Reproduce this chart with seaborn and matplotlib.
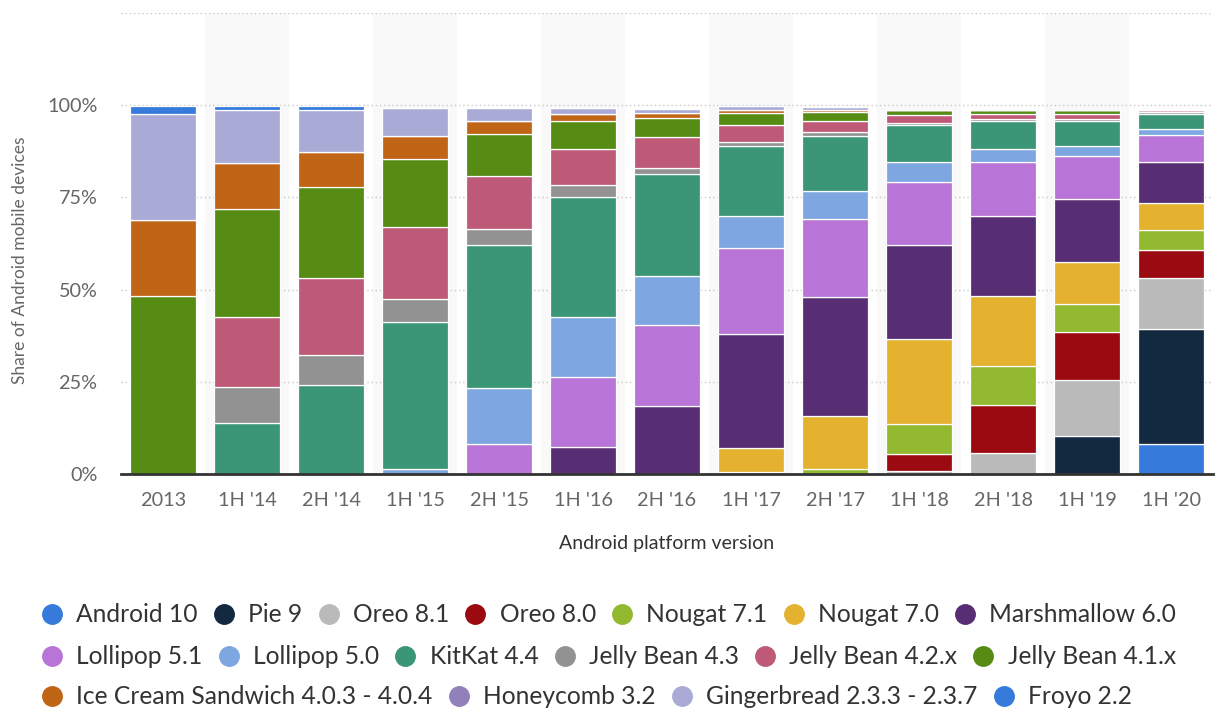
import matplotlib
matplotlib.use("Agg")
import matplotlib.pyplot as plt
from matplotlib.lines import Line2D
import seaborn as sns
import numpy as np
import pandas as pd

periods = ["2013", "1H '14", "2H '14", "1H '15", "2H '15", "1H '16", "2H '16",
           "1H '17", "2H '17", "1H '18", "2H '18", "1H '19", "1H '20"]

versions = ["Android 10", "Pie 9", "Oreo 8.1", "Oreo 8.0", "Nougat 7.1", "Nougat 7.0",
            "Marshmallow 6.0", "Lollipop 5.1", "Lollipop 5.0", "KitKat 4.4",
            "Jelly Bean 4.3", "Jelly Bean 4.2.x", "Jelly Bean 4.1.x",
            "Ice Cream Sandwich 4.0.3 - 4.0.4", "Honeycomb 3.2",
            "Gingerbread 2.3.3 - 2.3.7", "Froyo 2.2"]

colors = ["#367bdc", "#13293f", "#bababa", "#9a0a10", "#93b930", "#e4b22f",
          "#572d73", "#b874d6", "#7ea6e1", "#3b9577", "#929292", "#be5a78",
          "#568b14", "#c06416", "#9180ba", "#aaaad7", "#367bdc"]

# share (%) per version, one value per period
android_10   = [0, 0, 0, 0, 0, 0, 0, 0, 0, 0, 0, 0, 8.1]
pie_9        = [0, 0, 0, 0, 0, 0, 0, 0, 0, 0, 0, 10.3, 31.2]
oreo_81      = [0, 0, 0, 0, 0, 0, 0, 0, 0, 0.8, 5.6, 15.2, 13.8]
oreo_80      = [0, 0, 0, 0, 0, 0, 0, 0, 0, 4.6, 13.1, 12.9, 7.7]
nougat_71    = [0, 0, 0, 0, 0, 0, 0, 0.5, 1.3, 8.2, 10.6, 7.7, 5.3]
nougat_70    = [0, 0, 0, 0, 0, 0, 0, 6.6, 14.3, 23.0, 19.0, 11.5, 7.4]
marshmallow  = [0, 0, 0, 0, 0, 7.4, 18.5, 30.9, 32.4, 25.5, 21.6, 17.1, 11.0]
lollipop_51  = [0, 0, 0, 0, 8.1, 19.0, 21.9, 23.3, 21.2, 17.1, 14.6, 11.5, 7.5]
lollipop_50  = [0, 0, 0, 1.3, 15.2, 16.3, 13.4, 8.7, 7.4, 5.3, 3.5, 2.7, 1.6]
kitkat       = [0, 13.8, 24.2, 39.9, 38.9, 32.3, 27.5, 19.0, 15.0, 10.0, 7.8, 6.9, 4.1]
jb_43        = [0, 9.9, 8.0, 6.2, 4.2, 3.3, 1.6, 1.0, 1.0, 0.7, 0.5, 0.5, 0.4]
jb_42        = [0, 19.0, 20.9, 19.5, 14.3, 9.7, 8.4, 4.7, 3.0, 2.2, 1.3, 1.3, 0.6]
jb_41        = [48.3, 29.2, 24.8, 18.5, 11.4, 7.6, 5.2, 3.2, 2.6, 1.2, 1.0, 1.0, 0.1]
ics          = [20.6, 12.3, 9.5, 6.2, 3.5, 1.9, 1.4, 0.8, 0.4, 0.1, 0.1, 0.1, 0]
honeycomb    = [0, 0, 0, 0, 0, 0, 0, 0, 0, 0, 0, 0, 0]
gingerbread  = [28.6, 14.6, 11.4, 7.7, 3.7, 1.8, 1.2, 1.0, 0.8, 0.1, 0.1, 0.1, 0]
froyo        = [2.2, 0.9, 0.9, 0, 0, 0, 0, 0, 0, 0, 0, 0, 0]

series = [android_10, pie_9, oreo_81, oreo_80, nougat_71, nougat_70, marshmallow,
          lollipop_51, lollipop_50, kitkat, jb_43, jb_42, jb_41, ics, honeycomb,
          gingerbread, froyo]

sns.set_theme(style="white")
FONT = ["Lato", "DejaVu Sans"]
plt.rcParams["font.family"] = FONT

fig = plt.figure(figsize=(12.26, 7.09), dpi=100)
ax = fig.add_axes([121 / 1226, 235 / 709, (1213 - 121) / 1226, (474 - 13) / 709])

# alternating background bands
for i in range(len(periods)):
    if i % 2 == 1:
        ax.axvspan(i - 0.5, i + 0.5, color="#f9f9f9", zorder=0, lw=0)

# dotted grid
for g in [25, 50, 75, 100, 125]:
    ax.axhline(g, color="#c8c8c8", ls=(0, (1, 2)), lw=1.0, zorder=0.5)

bottom = np.zeros(len(periods))
for name, vals, col in zip(versions, series, colors):
    df = pd.DataFrame({"period": periods, "share": vals})
    sns.barplot(data=df, x="period", y="share", order=periods, color=col,
                width=0.78, bottom=bottom.copy(), edgecolor="white", linewidth=0.9,
                ax=ax, zorder=2, errorbar=None, saturation=1)
    bottom += np.array(vals)

ax.set_ylim(0, 125)
ax.set_xlim(-0.5, len(periods) - 0.5)
ax.set_yticks([0, 25, 50, 75, 100, 125])
ax.set_yticklabels(["0%", "25%", "50%", "75%", "100%", ""])
ax.tick_params(axis="both", length=0, labelsize=14.3, colors="#666666")
ax.tick_params(axis="y", pad=17)
ax.tick_params(axis="x", pad=13)
for s in ["top", "right", "left"]:
    ax.spines[s].set_visible(False)
ax.spines["bottom"].set_color("#333333")
ax.spines["bottom"].set_linewidth(2)
ax.spines["bottom"].set_zorder(5)
ax.set_xlabel("")
ax.set_ylabel("")

fig.text(20 / 1226, 1 - 260 / 709, "Share of Android mobile devices", rotation=90,
         ha="center", va="center", fontsize=12.5, color="#666666")
fig.text(667 / 1226, 1 - 543 / 709, "Android platform version", ha="center",
         va="center", fontsize=14, color="#333333")

rows = [versions[0:7], versions[7:13], versions[13:17]]
row_y = [615, 657, 697]
cmap = dict(zip(versions, colors))
for labels, yy in zip(rows, row_y):
    handles = [Line2D([], [], marker="o", ls="", markersize=14,
                      markerfacecolor=cmap[l], markeredgecolor=cmap[l]) for l in labels]
    fig.legend(handles, labels, loc="center left", bbox_to_anchor=(42 / 1226, 1 - yy / 709),
               ncol=len(labels), frameon=False, fontsize=17.7, handlelength=0.83,
               handletextpad=0.57, columnspacing=0.65, borderpad=0, borderaxespad=0,
               labelcolor="#333333")

fig.savefig("out.png", dpi=100)
